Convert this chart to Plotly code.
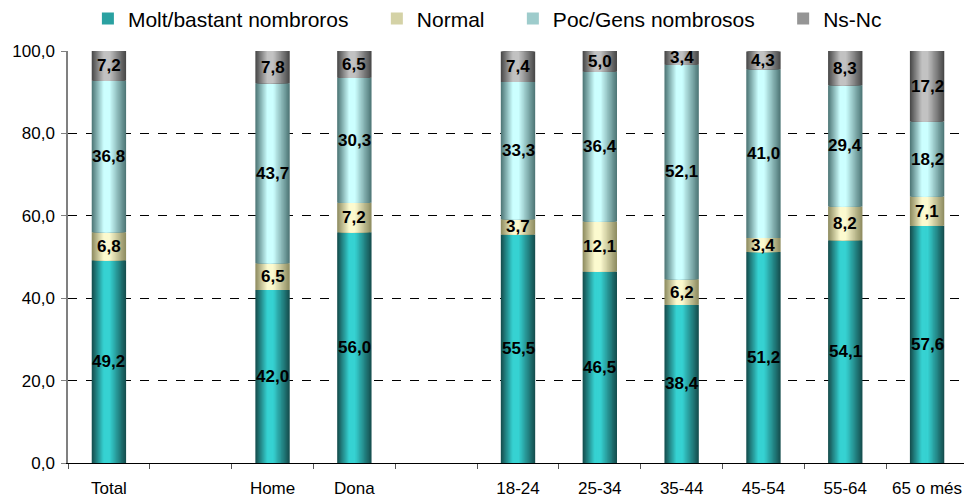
import plotly.graph_objects as go

# ---- data ----
categories = ["Total", "Home", "Dona", "18-24", "25-34", "35-44", "45-54", "55-64", "65 o més"]
axis_order = ["Total", " ", "Home", "Dona", "  ", "18-24", "25-34", "35-44", "45-54", "55-64", "65 o més"]
series_names = ["Molt/bastant nombroros", "Normal", "Poc/Gens nombrosos", "Ns-Nc"]
molt = [49.2, 42.0, 56.0, 55.5, 46.5, 38.4, 51.2, 54.1, 57.6]
normal = [6.8, 6.5, 7.2, 3.7, 12.1, 6.2, 3.4, 8.2, 7.1]
poc = [36.8, 43.7, 30.3, 33.3, 36.4, 52.1, 41.0, 29.4, 18.2]
nsnc = [7.2, 7.8, 6.5, 7.4, 5.0, 3.4, 4.3, 8.3, 17.2]
y_ticks = [0, 20, 40, 60, 80, 100]

series_values = [molt, normal, poc, nsnc]
# (edge colour, centre colour) per series to emulate the cylinder gradient
series_colors = [
    ((0x16, 0x50, 0x50), (0x36, 0xd2, 0xd2)),
    ((0x90, 0x8e, 0x62), (0xfc, 0xfa, 0xcf)),
    ((0x50, 0x78, 0x78), (0xcc, 0xff, 0xff)),
    ((0x4a, 0x4a, 0x4a), (0xc2, 0xc2, 0xc2)),
]

BAR_W = 0.42
LIGHT_POS = 0.42   # where the highlight sits across the bar (0 = left, 1 = right)
N_LAYERS = 16
FONT = "Liberation Sans, Arial, sans-serif"
LEGEND_PAD = "\u00a0" * 4


def mix(c1, c2, t):
    return "rgb(%d,%d,%d)" % tuple(round(a + (b - a) * t) for a, b in zip(c1, c2))


fig = go.Figure()

bases = [0.0] * len(categories)
label_anns = []
for s_idx, (name, vals) in enumerate(zip(series_names, series_values)):
    edge, centre = series_colors[s_idx]
    base = list(bases)
    legend_name = name + (LEGEND_PAD if s_idx < len(series_names) - 1 else "")
    for k in range(N_LAYERS):
        frac = k / N_LAYERS
        left = -BAR_W / 2 + frac * LIGHT_POS * BAR_W
        width = BAR_W * (1 - frac)
        t = min(1.0, frac / 0.8)
        fig.add_trace(go.Bar(
            x=categories, y=vals, base=base, width=width, offset=left,
            marker=dict(color=mix(edge, centre, t), line=dict(width=0)),
            name=legend_name, legendgroup=name,
            showlegend=(k == N_LAYERS // 2),
            hoverinfo="skip",
        ))
    for c, v, b in zip(categories, vals, base):
        label_anns.append(dict(
            x=c, y=b + v / 2, text="<b>" + f"{v:.1f}".replace(".", ",") + "</b>",
            showarrow=False, xref="x", yref="y",
            font=dict(family=FONT, size=17, color="black"),
        ))
    bases = [b + v for b, v in zip(bases, vals)]

# the page body adds an 8px margin, so the figure is sized/margined to fit the window
fig.update_layout(
    barmode="overlay",
    width=964, height=489,
    margin=dict(l=60, r=4, t=43, b=34, autoexpand=False),
    paper_bgcolor="white", plot_bgcolor="white",
    separators=",.",
    font=dict(family=FONT, size=17, color="black"),
    annotations=label_anns,
    legend=dict(
        orientation="h", x=0.466, xanchor="center", y=1.078, yanchor="middle",
        font=dict(family=FONT, size=21, color="black"),
        traceorder="normal", itemwidth=30,
        itemclick=False, itemdoubleclick=False,
    ),
    xaxis=dict(
        type="category", categoryorder="array", categoryarray=axis_order,
        range=[-0.5, len(axis_order) - 0.5],
        showline=True, linecolor="black", linewidth=1,
        ticks="outside", tickson="boundaries", ticklen=5, tickcolor="#555555",
        ticklabelstandoff=10,
        showgrid=False, tickfont=dict(family=FONT, size=17, color="black"),
    ),
    yaxis=dict(
        range=[0, 100.02], tickvals=y_ticks, tickformat=".1f",
        showline=True, linecolor="#808080", linewidth=1.5,
        ticks="outside", ticklen=5, tickcolor="#808080",
        ticklabelstandoff=3,
        showgrid=True, gridcolor="black", griddash="dash", gridwidth=1,
        zeroline=False,
        tickfont=dict(family=FONT, size=17, color="black"),
    ),
)

fig.write_html("out.html")
